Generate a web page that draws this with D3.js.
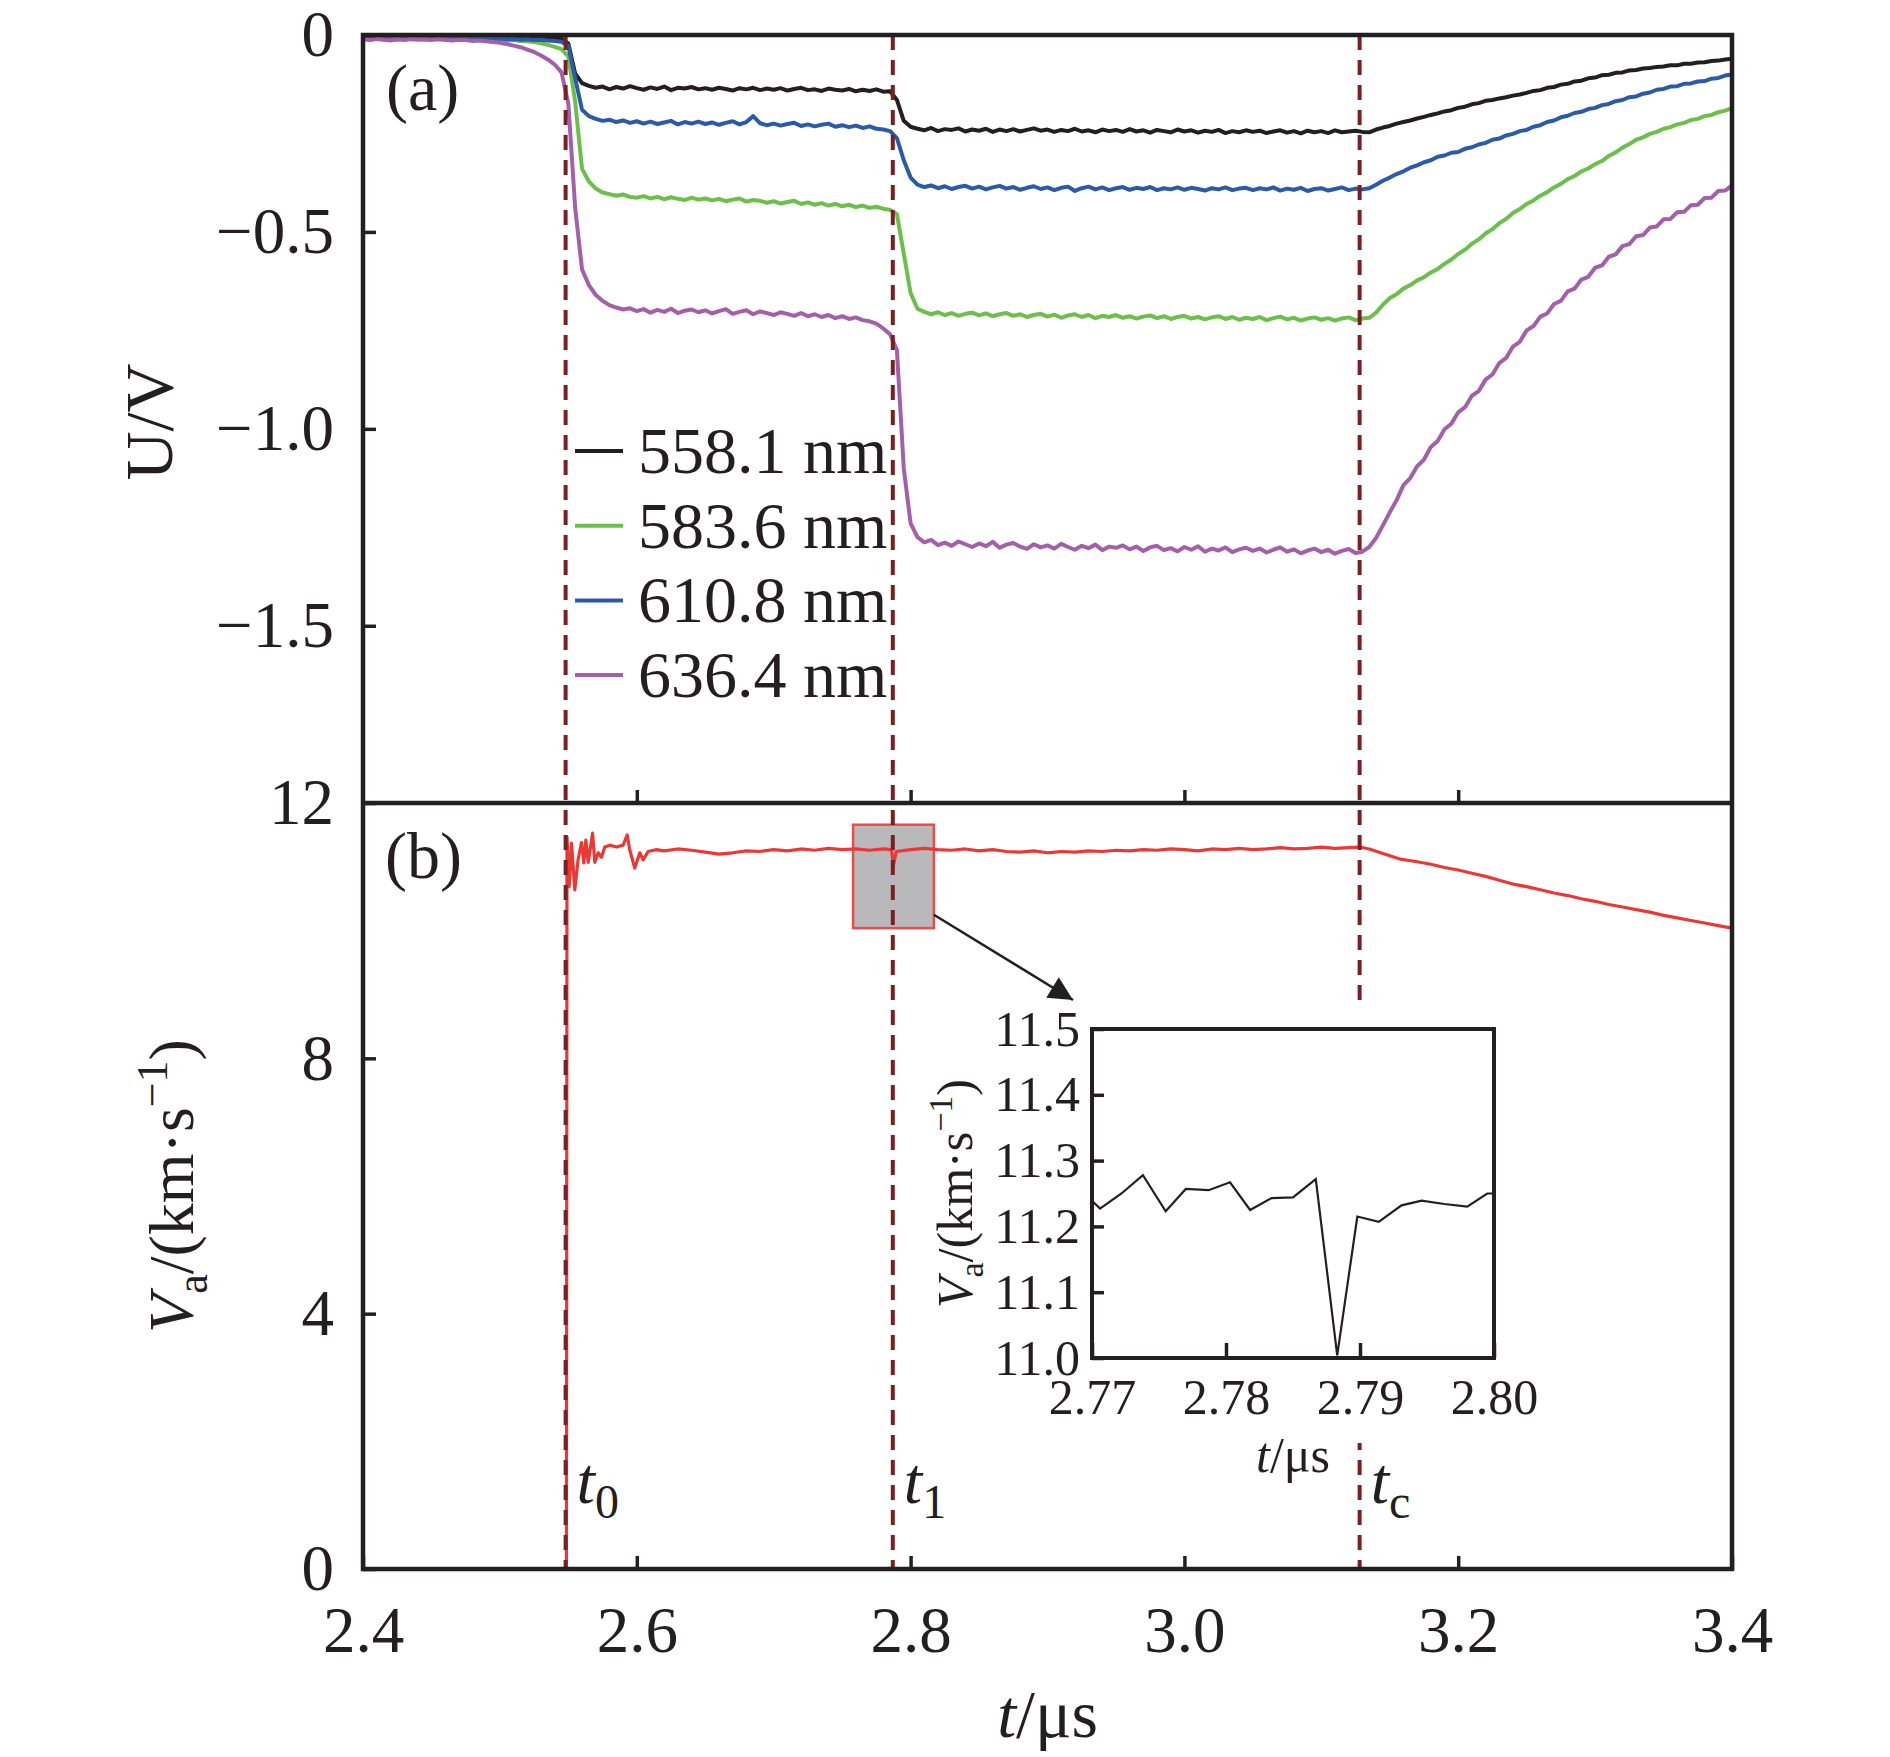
<!DOCTYPE html>
<html>
<head>
<meta charset="utf-8">
<script src="https://cdn.jsdelivr.net/npm/d3@7"></script>
<style>
  body { margin: 0; background: #fff; }
  text { font-family: "Liberation Serif", "Times New Roman", serif; fill: #231f20; }
</style>
</head>
<body>
<div id="chart"></div>
<script>
// ---- data ----
// oscilloscope traces (a): one sample every 5 ns from 2.400 to 3.400 us
const tStart = 2.4, tStep = 0.005, nSamples = 201;

const u558 = [
  -0.005,-0.007,-0.004,-0.006,-0.008,-0.005,-0.006,-0.004,-0.007,-0.005,
  -0.006,-0.004,-0.007,-0.005,-0.006,-0.008,-0.005,-0.006,-0.004,-0.007,
  -0.005,-0.006,-0.007,-0.005,-0.006,-0.008,-0.006,-0.007,-0.008,-0.009,
  -0.022,-0.098,-0.122,-0.129,-0.134,-0.131,-0.138,-0.132,-0.136,-0.130,
  -0.135,-0.139,-0.133,-0.137,-0.131,-0.140,-0.134,-0.136,-0.132,-0.138,
  -0.135,-0.139,-0.134,-0.137,-0.141,-0.135,-0.138,-0.134,-0.140,-0.136,
  -0.139,-0.135,-0.141,-0.137,-0.134,-0.140,-0.138,-0.142,-0.136,-0.139,
  -0.141,-0.137,-0.143,-0.139,-0.142,-0.138,-0.144,-0.143,-0.165,-0.218,
  -0.233,-0.238,-0.242,-0.236,-0.244,-0.239,-0.241,-0.237,-0.245,-0.240,
  -0.243,-0.238,-0.246,-0.240,-0.244,-0.239,-0.245,-0.241,-0.237,-0.243,
  -0.240,-0.246,-0.241,-0.244,-0.238,-0.245,-0.242,-0.247,-0.240,-0.244,
  -0.241,-0.246,-0.239,-0.245,-0.242,-0.248,-0.241,-0.244,-0.247,-0.240,
  -0.245,-0.242,-0.248,-0.243,-0.246,-0.241,-0.249,-0.244,-0.247,-0.242,
  -0.246,-0.243,-0.249,-0.245,-0.242,-0.248,-0.244,-0.250,-0.243,-0.247,
  -0.244,-0.249,-0.242,-0.247,-0.245,-0.243,-0.246,-0.247,-0.240,-0.235,
  -0.231,-0.225,-0.221,-0.217,-0.212,-0.208,-0.203,-0.199,-0.194,-0.191,
  -0.185,-0.182,-0.176,-0.173,-0.167,-0.165,-0.161,-0.158,-0.154,-0.151,
  -0.147,-0.142,-0.140,-0.134,-0.132,-0.126,-0.124,-0.118,-0.116,-0.110,
  -0.108,-0.102,-0.101,-0.096,-0.095,-0.090,-0.089,-0.085,-0.084,-0.081,
  -0.080,-0.077,-0.077,-0.073,-0.073,-0.070,-0.069,-0.066,-0.065,-0.062,
  -0.060
];

const u583 = [
  -0.010,-0.012,-0.009,-0.011,-0.010,-0.012,-0.009,-0.011,-0.010,-0.012,
  -0.011,-0.009,-0.012,-0.010,-0.011,-0.013,-0.010,-0.012,-0.011,-0.013,
  -0.012,-0.014,-0.013,-0.015,-0.016,-0.018,-0.021,-0.025,-0.030,-0.036,
  -0.055,-0.170,-0.340,-0.372,-0.390,-0.400,-0.404,-0.408,-0.405,-0.411,
  -0.413,-0.409,-0.415,-0.411,-0.417,-0.412,-0.416,-0.419,-0.413,-0.418,
  -0.415,-0.420,-0.416,-0.422,-0.418,-0.415,-0.423,-0.419,-0.421,-0.426,
  -0.422,-0.428,-0.424,-0.421,-0.429,-0.425,-0.431,-0.427,-0.433,-0.429,
  -0.435,-0.431,-0.437,-0.433,-0.439,-0.436,-0.441,-0.444,-0.455,-0.555,
  -0.655,-0.695,-0.703,-0.709,-0.704,-0.711,-0.706,-0.713,-0.708,-0.705,
  -0.712,-0.707,-0.714,-0.709,-0.706,-0.713,-0.709,-0.716,-0.711,-0.708,
  -0.715,-0.710,-0.718,-0.712,-0.709,-0.716,-0.711,-0.719,-0.713,-0.716,
  -0.711,-0.718,-0.714,-0.720,-0.715,-0.712,-0.719,-0.714,-0.721,-0.716,
  -0.713,-0.720,-0.716,-0.722,-0.717,-0.714,-0.721,-0.716,-0.723,-0.718,
  -0.721,-0.716,-0.724,-0.719,-0.715,-0.722,-0.718,-0.725,-0.720,-0.717,
  -0.723,-0.719,-0.725,-0.720,-0.717,-0.724,-0.720,-0.718,-0.705,-0.685,
  -0.668,-0.658,-0.644,-0.635,-0.623,-0.615,-0.603,-0.594,-0.581,-0.570,
  -0.556,-0.545,-0.530,-0.519,-0.504,-0.493,-0.478,-0.467,-0.452,-0.442,
  -0.429,-0.420,-0.408,-0.399,-0.387,-0.378,-0.366,-0.358,-0.346,-0.339,
  -0.328,-0.320,-0.307,-0.298,-0.286,-0.277,-0.266,-0.260,-0.251,-0.246,
  -0.238,-0.234,-0.227,-0.223,-0.216,-0.213,-0.206,-0.203,-0.196,-0.192,
  -0.186
];

const u610 = [
  -0.008,-0.010,-0.007,-0.009,-0.011,-0.008,-0.010,-0.007,-0.009,-0.008,
  -0.010,-0.008,-0.011,-0.009,-0.007,-0.010,-0.008,-0.011,-0.009,-0.010,
  -0.009,-0.011,-0.010,-0.012,-0.011,-0.013,-0.012,-0.014,-0.015,-0.017,
  -0.028,-0.110,-0.190,-0.206,-0.213,-0.218,-0.215,-0.221,-0.217,-0.223,
  -0.219,-0.225,-0.220,-0.226,-0.222,-0.218,-0.227,-0.221,-0.225,-0.220,
  -0.226,-0.222,-0.228,-0.223,-0.219,-0.227,-0.221,-0.206,-0.224,-0.229,
  -0.225,-0.230,-0.226,-0.223,-0.231,-0.227,-0.232,-0.228,-0.225,-0.233,
  -0.229,-0.234,-0.230,-0.236,-0.232,-0.238,-0.240,-0.244,-0.262,-0.318,
  -0.362,-0.380,-0.386,-0.382,-0.389,-0.384,-0.391,-0.386,-0.383,-0.390,
  -0.385,-0.392,-0.387,-0.383,-0.390,-0.386,-0.393,-0.388,-0.384,-0.391,
  -0.387,-0.394,-0.388,-0.385,-0.396,-0.389,-0.385,-0.392,-0.387,-0.394,
  -0.389,-0.386,-0.393,-0.388,-0.391,-0.386,-0.394,-0.389,-0.392,-0.387,
  -0.393,-0.388,-0.391,-0.395,-0.389,-0.392,-0.387,-0.394,-0.390,-0.388,
  -0.394,-0.389,-0.392,-0.387,-0.395,-0.390,-0.393,-0.388,-0.396,-0.391,
  -0.389,-0.395,-0.391,-0.387,-0.394,-0.390,-0.392,-0.389,-0.380,-0.370,
  -0.362,-0.353,-0.346,-0.337,-0.331,-0.323,-0.318,-0.309,-0.306,-0.299,
  -0.297,-0.289,-0.285,-0.278,-0.274,-0.266,-0.263,-0.255,-0.251,-0.244,
  -0.241,-0.233,-0.229,-0.221,-0.217,-0.209,-0.205,-0.198,-0.195,-0.188,
  -0.185,-0.178,-0.175,-0.168,-0.165,-0.158,-0.156,-0.149,-0.146,-0.139,
  -0.137,-0.131,-0.130,-0.124,-0.123,-0.118,-0.117,-0.111,-0.109,-0.103,
  -0.100
];

const u636 = [
  -0.011,-0.013,-0.010,-0.012,-0.014,-0.011,-0.013,-0.010,-0.012,-0.011,
  -0.013,-0.011,-0.012,-0.014,-0.012,-0.013,-0.015,-0.014,-0.016,-0.018,
  -0.020,-0.023,-0.027,-0.031,-0.037,-0.043,-0.052,-0.062,-0.075,-0.095,
  -0.175,-0.440,-0.595,-0.635,-0.660,-0.675,-0.686,-0.692,-0.697,-0.694,
  -0.701,-0.696,-0.705,-0.698,-0.703,-0.695,-0.706,-0.700,-0.697,-0.704,
  -0.699,-0.707,-0.701,-0.696,-0.708,-0.703,-0.699,-0.709,-0.702,-0.706,
  -0.711,-0.704,-0.708,-0.713,-0.706,-0.714,-0.709,-0.716,-0.711,-0.719,
  -0.714,-0.721,-0.717,-0.724,-0.727,-0.733,-0.745,-0.760,-0.800,-1.100,
  -1.240,-1.275,-1.288,-1.282,-1.295,-1.289,-1.297,-1.286,-1.293,-1.300,
  -1.291,-1.298,-1.287,-1.302,-1.294,-1.290,-1.299,-1.305,-1.293,-1.301,
  -1.296,-1.304,-1.292,-1.300,-1.307,-1.297,-1.303,-1.294,-1.308,-1.299,
  -1.302,-1.296,-1.306,-1.299,-1.310,-1.301,-1.297,-1.308,-1.303,-1.311,
  -1.300,-1.307,-1.298,-1.312,-1.304,-1.309,-1.301,-1.313,-1.306,-1.302,
  -1.310,-1.304,-1.314,-1.307,-1.301,-1.312,-1.306,-1.316,-1.309,-1.304,
  -1.313,-1.307,-1.317,-1.310,-1.305,-1.315,-1.312,-1.300,-1.277,-1.245,
  -1.212,-1.181,-1.143,-1.125,-1.095,-1.078,-1.046,-1.031,-1.001,-0.987,
  -0.958,-0.945,-0.916,-0.904,-0.875,-0.862,-0.833,-0.820,-0.791,-0.779,
  -0.750,-0.739,-0.715,-0.707,-0.683,-0.675,-0.651,-0.644,-0.621,-0.614,
  -0.591,-0.585,-0.563,-0.557,-0.536,-0.531,-0.511,-0.508,-0.489,-0.486,
  -0.468,-0.467,-0.450,-0.449,-0.432,-0.431,-0.414,-0.413,-0.396,-0.395,
  -0.382
];

const seriesNames = ["558.1 nm", "583.6 nm", "610.8 nm", "636.4 nm"];
const seriesColors = ["#231f20", "#6cbf4b", "#2b5aa8", "#a45fab"];

// apparent velocity (b)
const redT = [
  2.5486, 2.5490, 2.5506, 2.5523, 2.5547, 2.5571, 2.5596, 2.5613, 2.5628, 2.5645,
  2.5662, 2.5677, 2.5693, 2.5718, 2.5742, 2.5766, 2.5803, 2.5852, 2.5900, 2.5930,
  2.5949, 2.5985, 2.6022, 2.6046, 2.6083, 2.6144, 2.620, 2.630, 2.640, 2.650,
  2.660, 2.670, 2.680, 2.690, 2.700, 2.710, 2.720, 2.730, 2.740, 2.750,
  2.760, 2.770, 2.780, 2.786, 2.7875, 2.7895, 2.800, 2.810, 2.820, 2.830,
  2.840, 2.850, 2.860, 2.870, 2.880, 2.890, 2.900, 2.910, 2.920, 2.930,
  2.940, 2.950, 2.960, 2.970, 2.980, 2.990, 3.000, 3.010, 3.020, 3.030,
  3.040, 3.050, 3.060, 3.070, 3.080, 3.090, 3.100, 3.110, 3.120, 3.128,
  3.135, 3.145, 3.158, 3.170, 3.180, 3.190, 3.200, 3.210, 3.220, 3.230,
  3.240, 3.250, 3.260, 3.270, 3.280, 3.290, 3.300, 3.310, 3.320, 3.330,
  3.340, 3.350, 3.360, 3.370, 3.380, 3.390, 3.400
];
const redV = [
  0, 11.47, 10.69, 11.37, 10.64, 11.11, 11.38, 11.06, 11.42, 11.07,
  11.31, 11.53, 11.07, 11.22, 11.15, 11.31, 11.34, 11.31, 11.34, 11.50,
  11.26, 10.98, 11.22, 11.11, 11.24, 11.27, 11.25, 11.28, 11.26, 11.23,
  11.20, 11.22, 11.25, 11.24, 11.27, 11.25, 11.28, 11.26, 11.29, 11.27,
  11.28, 11.26, 11.28, 11.27, 11.03, 11.24, 11.27, 11.29, 11.27, 11.26,
  11.28, 11.25, 11.27, 11.24, 11.23, 11.25, 11.22, 11.24, 11.23, 11.25,
  11.24, 11.26, 11.25, 11.27, 11.26, 11.28, 11.27, 11.25, 11.28, 11.27,
  11.29, 11.27, 11.28, 11.30, 11.28, 11.29, 11.31, 11.29, 11.30, 11.31,
  11.28, 11.21, 11.12, 11.08, 11.04, 10.99, 10.95, 10.90, 10.85, 10.79,
  10.73, 10.69, 10.64, 10.59, 10.55, 10.50, 10.46, 10.41, 10.37, 10.33,
  10.29, 10.24, 10.20, 10.16, 10.12, 10.08, 10.04
];

// inset: zoom around t1
const insetT = [2.7700, 2.7706, 2.7722, 2.7738, 2.7755, 2.7770, 2.7787, 2.7803, 2.7818, 2.7834,
  2.7850, 2.7867, 2.7883, 2.7898, 2.7914, 2.7931, 2.7946, 2.7963, 2.7980, 2.7995, 2.8000];
const insetV = [11.239, 11.227, 11.250, 11.278, 11.223, 11.257, 11.255, 11.267, 11.225, 11.243,
  11.244, 11.272, 11.004, 11.215, 11.207, 11.232, 11.239, 11.234, 11.230, 11.250, 11.250];

// characteristic times t0, t1, tc
const markerT = [2.548, 2.787, 3.128];
const markerSub = ["0", "1", "c"];

// highlighted region in (b)
const boxT = [2.758, 2.817];
const boxV = [10.04, 11.66];

const xTicks = [2.4, 2.6, 2.8, 3.0, 3.2, 3.4];
const uTicks = [0, -0.5, -1.0, -1.5];
const vTicks = [0, 4, 8, 12];
const insetXTicks = [2.77, 2.78, 2.79, 2.80];
const insetYTicks = [11.0, 11.1, 11.2, 11.3, 11.4, 11.5];

// ---- layout ----
const W = 1890, H = 1757;
const plot = { left: 363, right: 1732, top: 35, mid: 803, bottom: 1569 };
const inset = { left: 1092, right: 1494, top: 1029, bottom: 1358 };
const ink = "#231f20";
const tickFont = 65;

const traceT = d3.range(nSamples).map(i => +(tStart + i * tStep).toFixed(3));

const x = d3.scaleLinear().domain([2.4, 3.4]).range([plot.left, plot.right]);
const yA = d3.scaleLinear().domain([-1.95, 0]).range([plot.mid, plot.top]);
const yB = d3.scaleLinear().domain([0, 12]).range([plot.bottom, plot.mid]);
const xi = d3.scaleLinear().domain([2.77, 2.80]).range([inset.left, inset.right]);
const yi = d3.scaleLinear().domain([11.0, 11.5]).range([inset.bottom, inset.top]);

const svg = d3.select("#chart").append("svg")
  .attr("width", W).attr("height", H)
  .attr("viewBox", `0 0 ${W} ${H}`);

const defs = svg.append("defs");
defs.append("clipPath").attr("id", "clipA").append("rect")
  .attr("x", plot.left).attr("y", plot.top)
  .attr("width", plot.right - plot.left).attr("height", plot.mid - plot.top);
defs.append("clipPath").attr("id", "clipB").append("rect")
  .attr("x", plot.left).attr("y", plot.mid)
  .attr("width", plot.right - plot.left).attr("height", plot.bottom - plot.mid);
defs.append("clipPath").attr("id", "clipI").append("rect")
  .attr("x", inset.left).attr("y", inset.top)
  .attr("width", inset.right - inset.left).attr("height", inset.bottom - inset.top);
defs.append("marker")
  .attr("id", "arrow").attr("viewBox", "0 0 10 10")
  .attr("refX", 10).attr("refY", 5)
  .attr("markerUnits", "userSpaceOnUse")
  .attr("markerWidth", 40).attr("markerHeight", 24)
  .attr("orient", "auto")
  .append("path").attr("d", "M0,0 L10,5 L0,10 z").attr("fill", ink);

// highlighted box behind the velocity trace
svg.append("rect")
  .attr("x", x(boxT[0])).attr("y", yB(boxV[1]))
  .attr("width", x(boxT[1]) - x(boxT[0]))
  .attr("height", yB(boxV[0]) - yB(boxV[1]))
  .attr("fill", "#b9b9bb").attr("stroke", "#ee4b47").attr("stroke-width", 2.5);

// (a) traces
const gA = svg.append("g").attr("clip-path", "url(#clipA)");
const lineA = d3.line().x((d, i) => x(traceT[i])).y(d => yA(d));
[u558, u583, u610, u636].forEach((vals, k) => {
  gA.append("path").datum(vals)
    .attr("d", lineA)
    .attr("fill", "none")
    .attr("stroke", seriesColors[k])
    .attr("stroke-width", 4)
    .attr("stroke-linejoin", "round");
});

// (b) trace
const gB = svg.append("g").attr("clip-path", "url(#clipB)");
gB.append("path").datum(d3.zip(redT, redV))
  .attr("d", d3.line().x(d => x(d[0])).y(d => yB(d[1])))
  .attr("fill", "none").attr("stroke", "#ec3834")
  .attr("stroke-width", 3.2).attr("stroke-linejoin", "round");

// dashed time markers
svg.append("g").selectAll("line").data(markerT).join("line")
  .attr("x1", d => x(d)).attr("x2", d => x(d))
  .attr("y1", plot.top).attr("y2", plot.bottom)
  .attr("stroke", "#7a1f24").attr("stroke-width", 4)
  .attr("stroke-dasharray", "15,10");

// axes
function styleAxis(g, size) {
  g.select(".domain").remove();
  g.selectAll(".tick line").attr("stroke", ink).attr("stroke-width", 3.5);
  g.selectAll(".tick text")
    .attr("font-size", size)
    .attr("font-family", '"Liberation Serif", "Times New Roman", serif')
    .attr("fill", ink);
}

svg.append("g").attr("transform", `translate(${plot.left},0)`)
  .call(d3.axisLeft(yA).tickValues(uTicks)
    .tickFormat(d => d === 0 ? "0" : d3.format(".1f")(d))
    .tickSize(-13).tickPadding(29))
  .call(g => styleAxis(g, tickFont));

svg.append("g").attr("transform", `translate(${plot.left},0)`)
  .call(d3.axisLeft(yB).tickValues(vTicks).tickFormat(d3.format("d"))
    .tickSize(-13).tickPadding(29))
  .call(g => styleAxis(g, tickFont));

svg.append("g").attr("transform", `translate(0,${plot.mid})`)
  .call(d3.axisBottom(x).tickValues(xTicks.slice(1, -1)).tickFormat("")
    .tickSize(-13))
  .call(g => styleAxis(g, tickFont));

svg.append("g").attr("transform", `translate(0,${plot.bottom})`)
  .call(d3.axisBottom(x).tickValues(xTicks).tickFormat(d3.format(".1f"))
    .tickSize(-13).tickPadding(37))
  .call(g => styleAxis(g, tickFont));

// frame
svg.append("rect")
  .attr("x", plot.left).attr("y", plot.top)
  .attr("width", plot.right - plot.left).attr("height", plot.bottom - plot.top)
  .attr("fill", "none").attr("stroke", ink).attr("stroke-width", 4.5);
svg.append("line")
  .attr("x1", plot.left).attr("x2", plot.right)
  .attr("y1", plot.mid).attr("y2", plot.mid)
  .attr("stroke", ink).attr("stroke-width", 4.5);

// panel tags
svg.append("text").attr("x", 386).attr("y", 110).attr("font-size", 66).text("(a)");
svg.append("text").attr("x", 385).attr("y", 878).attr("font-size", 66).text("(b)");

// axis titles
svg.append("text")
  .attr("transform", `translate(172,422) rotate(-90)`)
  .attr("text-anchor", "middle").attr("font-size", 68).text("U/V");

function velocityLabel(g, size) {
  const sub = Math.round(size * 0.68);
  const t = g.append("text").attr("text-anchor", "middle").attr("font-size", size);
  t.append("tspan").attr("font-style", "italic").text("V");
  t.append("tspan").attr("font-size", sub).attr("dy", size * 0.22).text("a");
  t.append("tspan").attr("dy", -size * 0.22).text("/(km·s");
  t.append("tspan").attr("font-size", sub).attr("dy", -size * 0.4).text("−1");
  t.append("tspan").attr("dy", size * 0.4).text(")");
}
velocityLabel(svg.append("g").attr("transform", "translate(193,1186) rotate(-90)"), 64);

const xTitle = svg.append("text").attr("x", (plot.left + plot.right) / 2).attr("y", 1737)
  .attr("text-anchor", "middle").attr("font-size", 68);
xTitle.append("tspan").attr("font-style", "italic").text("t");
xTitle.append("tspan").text("/μs");

// time marker labels
markerT.forEach((t, k) => {
  const lbl = svg.append("text").attr("x", x(t) + 11).attr("y", 1503).attr("font-size", 66);
  lbl.append("tspan").attr("font-style", "italic").text("t");
  lbl.append("tspan").attr("font-size", 48).attr("dy", 15).text(markerSub[k]);
});

// legend
const legend = svg.append("g");
seriesNames.forEach((name, k) => {
  const yy = 451 + k * 74.7;
  legend.append("line")
    .attr("x1", 575).attr("x2", 623).attr("y1", yy).attr("y2", yy)
    .attr("stroke", seriesColors[k]).attr("stroke-width", 4);
  legend.append("text").attr("x", 638).attr("y", yy + 22)
    .attr("font-size", 66).text(name);
});

// inset
const gI = svg.append("g");
gI.append("rect").attr("x", 930).attr("y", 1003).attr("width", 610).attr("height", 440)
  .attr("fill", "#fff");
gI.append("g").attr("clip-path", "url(#clipI)")
  .append("path").datum(d3.zip(insetT, insetV))
  .attr("d", d3.line().x(d => xi(d[0])).y(d => yi(d[1])))
  .attr("fill", "none").attr("stroke", ink).attr("stroke-width", 2.2);
gI.append("g").attr("transform", `translate(${inset.left},0)`)
  .call(d3.axisLeft(yi).tickValues(insetYTicks).tickFormat(d3.format(".1f"))
    .tickSize(-12).tickPadding(12))
  .call(g => styleAxis(g, 50));
gI.append("g").attr("transform", `translate(0,${inset.bottom})`)
  .call(d3.axisBottom(xi).tickValues(insetXTicks).tickFormat(d3.format(".2f"))
    .tickSize(-15).tickPadding(20))
  .call(g => styleAxis(g, 50));
gI.append("rect")
  .attr("x", inset.left).attr("y", inset.top)
  .attr("width", inset.right - inset.left).attr("height", inset.bottom - inset.top)
  .attr("fill", "none").attr("stroke", ink).attr("stroke-width", 4);
velocityLabel(gI.append("g").attr("transform", `translate(972,${(inset.top + inset.bottom) / 2}) rotate(-90)`), 50);
const iTitle = gI.append("text").attr("x", (inset.left + inset.right) / 2).attr("y", 1472)
  .attr("text-anchor", "middle").attr("font-size", 50);
iTitle.append("tspan").attr("font-style", "italic").text("t");
iTitle.append("tspan").text("/μs");

// arrow from box to inset
svg.append("line")
  .attr("x1", x(boxT[1])).attr("y1", yB(10.25))
  .attr("x2", inset.left - 19).attr("y2", inset.top - 29)
  .attr("stroke", ink).attr("stroke-width", 2.5)
  .attr("marker-end", "url(#arrow)");
</script>
</body>
</html>
